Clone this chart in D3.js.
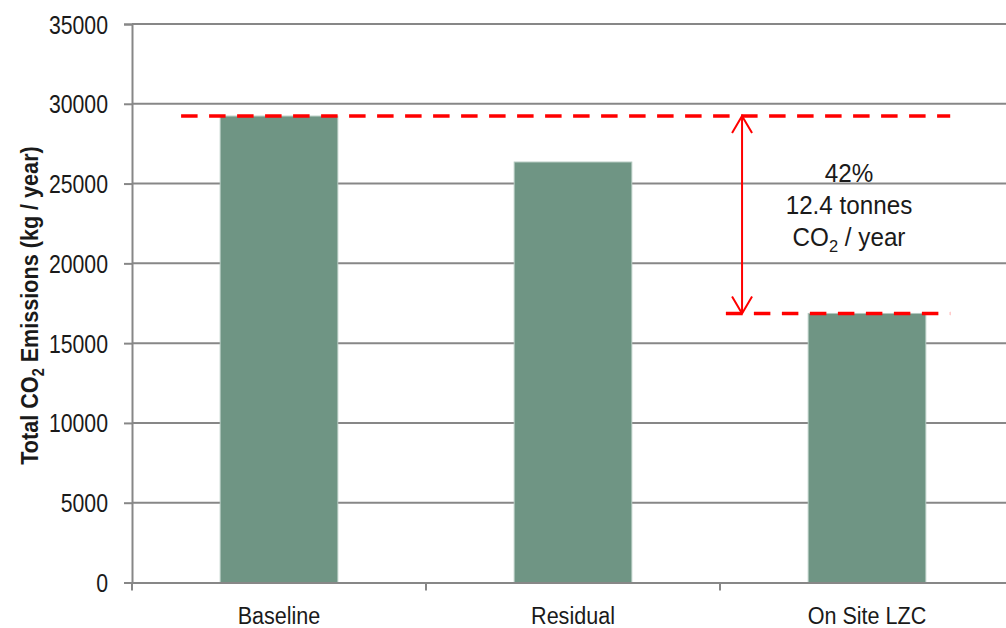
<!DOCTYPE html>
<html>
<head>
<meta charset="utf-8">
<script src="https://cdn.jsdelivr.net/npm/d3@7"></script>
<style>
  html, body { margin: 0; padding: 0; background: #fff; }
  svg { display: block; }
  text { font-family: "Liberation Sans", Arial, sans-serif; }
</style>
</head>
<body>
<svg id="chart" width="1006" height="628"></svg>
<script>
const categories = ["Baseline", "Residual", "On Site LZC"];
const emissions = [29230, 26350, 16860];
const yTicks = [0, 5000, 10000, 15000, 20000, 25000, 30000, 35000];
const annotationLines = ["42%", "12.4 tonnes"];

const svg = d3.select("#chart");
const plot = { left: 132, right: 1014, top: 24, bottom: 582.5 };

const x = d3.scaleBand().domain(categories).range([plot.left, plot.right]).padding(0);
const y = d3.scaleLinear().domain([0, 35000]).range([plot.bottom, plot.top]);

const gridColor = "#878787";
const textColor = "#1a1a1a";

// gridlines
svg.append("g").selectAll("line").data(yTicks.filter(d => d > 0)).join("line")
  .attr("x1", plot.left).attr("x2", plot.right)
  .attr("y1", d => y(d)).attr("y2", d => y(d))
  .attr("stroke", gridColor).attr("stroke-width", 2);

// y axis
const yAxis = svg.append("g").attr("transform", `translate(${plot.left},0)`)
  .call(d3.axisLeft(y).tickValues(yTicks).tickSize(8).tickPadding(16).tickFormat(d3.format("d")));
yAxis.select(".domain").attr("stroke", gridColor).attr("stroke-width", 2);
yAxis.selectAll(".tick line").attr("stroke", gridColor).attr("stroke-width", 2);
yAxis.selectAll(".tick text")
  .attr("x", 0)
  .attr("transform", "translate(-24,0) scale(0.85,1)")
  .attr("font-size", 25).attr("fill", textColor)
  .attr("dy", "0.36em");

// bars
const barW = x.bandwidth() * 0.4;
svg.append("g").selectAll("rect").data(categories).join("rect")
  .attr("x", (d) => x(d) + (x.bandwidth() - barW) / 2)
  .attr("y", (d, i) => y(emissions[i]))
  .attr("width", barW)
  .attr("height", (d, i) => y(0) - y(emissions[i]))
  .attr("fill", "#6f9584")
  .attr("stroke", "#b3c9bf").attr("stroke-width", 1);

// x axis
const xAxis = svg.append("g").attr("transform", `translate(0,${plot.bottom})`)
  .call(d3.axisBottom(x).tickSize(0).tickPadding(24));
xAxis.select(".domain").attr("stroke", gridColor).attr("stroke-width", 2);
xAxis.selectAll(".tick text")
  .attr("transform", "scale(0.88,1)")
  .attr("font-size", 24.5).attr("fill", textColor);
// category boundary ticks
const boundaries = categories.map(c => x(c)).concat([x(categories[categories.length - 1]) + x.bandwidth()]);
svg.append("g").selectAll("line").data(boundaries).join("line")
  .attr("x1", d => d).attr("x2", d => d)
  .attr("y1", plot.bottom).attr("y2", plot.bottom + 8)
  .attr("stroke", gridColor).attr("stroke-width", 2);

// y axis title
const yt = svg.append("text")
  .attr("transform", `translate(37.5,305.5) rotate(-90) scale(0.9,1)`)
  .attr("text-anchor", "middle")
  .attr("font-weight", "bold").attr("font-size", 24).attr("fill", textColor);
yt.append("tspan").text("Total CO");
yt.append("tspan").attr("font-size", 16).attr("dy", 6).text("2");
yt.append("tspan").attr("dy", -6).text(" Emissions (kg / year)");

// annotation: dashed reference lines
const bw = x.bandwidth();
const red = "#ff0000";
const baseVal = emissions[0], lzcVal = emissions[2];
svg.append("line")
  .attr("x1", x("Baseline") + bw * 0.167).attr("x2", x("On Site LZC") + bw * 0.783)
  .attr("y1", y(baseVal)).attr("y2", y(baseVal))
  .attr("stroke", red).attr("stroke-width", 3.5).attr("stroke-dasharray", "16.5,11.5");
svg.append("line")
  .attr("x1", x("On Site LZC") + bw * 0.02).attr("x2", x("On Site LZC") + bw * 0.783)
  .attr("y1", y(lzcVal)).attr("y2", y(lzcVal))
  .attr("stroke", red).attr("stroke-width", 3.5).attr("stroke-dasharray", "16.5,11.5");

// double arrow
const ax = x("On Site LZC") + bw * 0.075;
const yTop = y(baseVal), yBot = y(lzcVal);
const arrow = svg.append("g").attr("stroke", red).attr("stroke-width", 2).attr("fill", "none");
arrow.append("line").attr("x1", ax).attr("x2", ax).attr("y1", yTop).attr("y2", yBot);
arrow.append("path").attr("d", `M${ax - 10},${yTop + 17}L${ax},${yTop}L${ax + 10},${yTop + 17}`);
arrow.append("path").attr("d", `M${ax - 10},${yBot - 17}L${ax},${yBot}L${ax + 10},${yBot - 17}`);

// annotation text
const tx = 849;
const ann = svg.append("g").attr("font-size", 25).attr("fill", textColor).attr("text-anchor", "middle");
annotationLines.forEach((t, i) => {
  ann.append("text").attr("x", tx).attr("y", 182 + i * 32)
    .attr("transform", `translate(${tx},0) scale(0.97,1) translate(${-tx},0)`).text(t);
});
const co2 = ann.append("text").attr("x", tx).attr("y", 246)
  .attr("transform", `translate(${tx},0) scale(0.97,1) translate(${-tx},0)`);
co2.append("tspan").text("CO");
co2.append("tspan").attr("font-size", 17).attr("dy", 6).text("2");
co2.append("tspan").attr("dy", -6).text(" / year");
</script>
</body>
</html>
